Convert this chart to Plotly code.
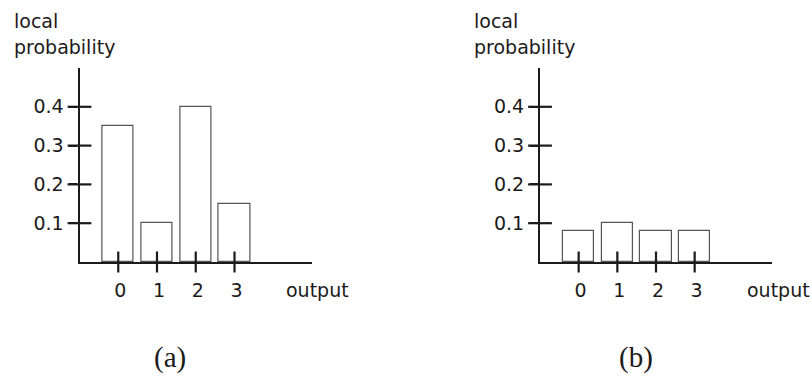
import plotly.graph_objects as go

# ---- data ----
categories = [0, 1, 2, 3]
probs_a = [0.35, 0.10, 0.40, 0.15]
probs_b = [0.08, 0.10, 0.08, 0.08]
y_tick_vals = [0.1, 0.2, 0.3, 0.4]
y_tick_text = ["0.1", "0.2", "0.3", "0.4"]
x_tick_text = ["0", "1", "2", "3"]
panel_labels = ["(a)", "(b)"]
y_title = ["local", "probability"]
x_title = "output"

X_RANGE = [-1, 5]
Y_RANGE = [0, 0.5]
INK = "#1c1a1a"
SANS = "DejaVu Sans"
FS = 19

W, H = 812, 380
dom_x = [[79.5 / W, 312 / W], [540 / W, 772 / W]]
dom_y = [1 - 262 / H, 1 - 68 / H]

fig = go.Figure()

for i, probs in enumerate([probs_a, probs_b]):
    xa = "x" if i == 0 else "x2"
    ya = "y" if i == 0 else "y2"
    fig.add_trace(go.Bar(
        x=categories, y=probs, width=0.81,
        marker=dict(color="white", line=dict(color="#555555", width=1.2)),
        xaxis=xa, yaxis=ya, showlegend=False, hoverinfo="skip",
    ))
    # crossing x ticks
    fig.add_trace(go.Scatter(
        x=categories, y=[Y_RANGE[0]] * len(categories), mode="markers",
        marker=dict(symbol="line-ns", size=15, line=dict(color=INK, width=2.2)),
        xaxis=xa, yaxis=ya, showlegend=False, cliponaxis=False, hoverinfo="skip",
    ))
    # crossing y ticks
    fig.add_trace(go.Scatter(
        x=[X_RANGE[0]] * len(y_tick_vals), y=y_tick_vals, mode="markers",
        marker=dict(symbol="line-ew", size=17, line=dict(color=INK, width=2.2)),
        xaxis=xa, yaxis=ya, showlegend=False, cliponaxis=False, hoverinfo="skip",
    ))

axis_common = dict(showgrid=False, zeroline=False, showline=True,
                   linecolor=INK, linewidth=2.2, fixedrange=True,
                   tickfont=dict(family=SANS, size=FS, color=INK))

layout = dict(
    width=W, height=H, margin=dict(l=0, r=0, t=0, b=0),
    paper_bgcolor="white", plot_bgcolor="white",
    bargap=0,
)
for i in range(2):
    sx = "" if i == 0 else "2"
    layout["xaxis" + sx] = dict(
        axis_common, domain=dom_x[i], range=X_RANGE, anchor="y" + sx,
        tickmode="array", tickvals=categories, ticktext=x_tick_text,
        ticks="", ticklabelstandoff=10, ticklabelshift=2,
    )
    layout["yaxis" + sx] = dict(
        axis_common, domain=dom_y, range=Y_RANGE, anchor="x" + sx,
        tickmode="array", tickvals=y_tick_vals, ticktext=y_tick_text,
        ticks="outside", ticklen=8, tickwidth=2.2, tickcolor=INK,
        ticklabelstandoff=2,
    )
fig.update_layout(**layout)

ann = []
title_left = [12, 472]
out_left = [284, 745]
label_cx = [170, 636]
for i in range(2):
    ann.append(dict(text=y_title[0], x=title_left[i] / W, y=1 - 8 / H,
                    xref="paper", yref="paper", xanchor="left", yanchor="top",
                    showarrow=False, font=dict(family=SANS, size=FS, color=INK)))
    ann.append(dict(text=y_title[1], x=title_left[i] / W, y=1 - 34 / H,
                    xref="paper", yref="paper", xanchor="left", yanchor="top",
                    showarrow=False, font=dict(family=SANS, size=FS, color=INK)))
    ann.append(dict(text=x_title, x=out_left[i] / W, y=1 - 290 / H,
                    xref="paper", yref="paper", xanchor="left", yanchor="middle",
                    showarrow=False, font=dict(family=SANS, size=FS, color=INK)))
    ann.append(dict(text=panel_labels[i], x=label_cx[i] / W, y=1 - 357 / H,
                    xref="paper", yref="paper", xanchor="center", yanchor="middle",
                    showarrow=False,
                    font=dict(family="Liberation Serif", size=29, color=INK)))
fig.update_layout(annotations=ann)

fig.write_html("out.html", config={"displayModeBar": False},
               post_script="document.body.style.margin='0';")
